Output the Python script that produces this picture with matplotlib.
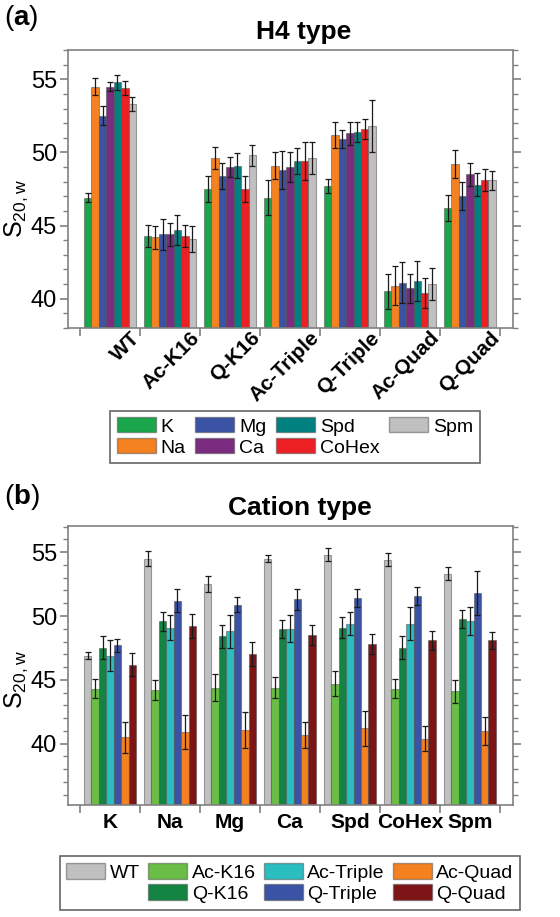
import matplotlib
matplotlib.use('Agg')
import matplotlib.pyplot as plt
import numpy as np
from matplotlib import font_manager
from matplotlib.patches import Patch
from matplotlib.transforms import ScaledTranslation

# H4 variants (panel a groups) and cations (panel b groups)
h4_types = ['WT', 'Ac-K16', 'Q-K16', 'Ac-Triple', 'Q-Triple', 'Ac-Quad', 'Q-Quad']
cations = ['K', 'Na', 'Mg', 'Ca', 'Spd', 'CoHex', 'Spm']

# s20,w per cation (K, Na, Mg, Ca, Spd, CoHex, Spm) for each H4 type
wt = [46.9, 54.5, 52.5, 54.5, 54.8, 54.4, 53.3]
wt_err = [0.3, 0.6, 0.65, 0.3, 0.5, 0.5, 0.5]
ac_k16 = [44.3, 44.2, 44.4, 44.4, 44.7, 44.3, 44.1]
ac_k16_err = [0.75, 0.8, 1.05, 0.8, 1.0, 0.75, 0.9]
q_k16 = [47.5, 49.6, 48.4, 49.0, 49.1, 47.5, 49.8]
q_k16_err = [0.9, 0.75, 0.9, 0.7, 0.85, 0.9, 0.7]
ac_triple = [46.9, 49.1, 48.8, 49.0, 49.4, 49.4, 49.6]
ac_triple_err = [1.2, 0.95, 1.3, 1.05, 0.9, 1.3, 1.1]
q_triple = [47.7, 51.2, 50.9, 51.3, 51.4, 51.6, 51.8]
q_triple_err = [0.5, 0.9, 0.6, 0.8, 0.7, 0.7, 1.75]
ac_quad = [40.5, 40.9, 41.1, 40.7, 41.2, 40.4, 41.0]
ac_quad_err = [1.2, 1.35, 1.4, 1.0, 1.35, 1.0, 1.1]
q_quad = [46.2, 49.2, 47.0, 48.5, 47.8, 48.1, 48.1]
q_quad_err = [0.9, 0.95, 0.95, 0.8, 0.8, 0.75, 0.65]

cation_colors = ['#1aa64a', '#f58220', '#3b53a4', '#7b2b80', '#008080', '#ed2024', '#c0c0c0']
h4_colors = ['#c0c0c0', '#6abd45', '#138442', '#2bbec0', '#3b53a4', '#f58220', '#7d1416']

values = np.array([wt, ac_k16, q_k16, ac_triple, q_triple, ac_quad, q_quad])
errors = np.array([wt_err, ac_k16_err, q_k16_err, ac_triple_err, q_triple_err,
                   ac_quad_err, q_quad_err])

names = {f.name for f in font_manager.fontManager.ttflist}
narrow = 'Liberation Sans Narrow' if 'Liberation Sans Narrow' in names else 'Liberation Sans'
plt.rcParams['font.family'] = [narrow, 'DejaVu Sans']
plt.rcParams['mathtext.fontset'] = 'custom'
plt.rcParams['mathtext.rm'] = 'Liberation Sans'
plt.rcParams['mathtext.bf'] = 'Liberation Sans:bold'

W, H = 560, 917
fig = plt.figure(figsize=(W / 100, H / 100), dpi=100)

gray = '#808080'
edge = (0.3, 0.3, 0.3, 0.5)
bar_w = 0.124


def draw_panel(ax, data, err, colors):
    n = data.shape[1]
    x = np.arange(data.shape[0])
    for i in range(n):
        ax.bar(x + (i - (n - 1) / 2) * bar_w, data[:, i], bar_w, yerr=err[:, i],
               color=colors[i], edgecolor=edge, linewidth=0.8,
               error_kw=dict(ecolor='#1a1a1a', elinewidth=0.9, capsize=2.5, capthick=0.9))
    ax.set_xlim(-0.7, 6.72)
    ax.set_xticks(np.arange(-0.5, 7, 1))
    ax.set_xticklabels([])
    ax.set_xticks(x, minor=True)
    ax.set_yticks([40, 45, 50, 55])
    ax.set_yticks(np.arange(36, 58, 1), minor=True)
    for s in ax.spines.values():
        s.set_color(gray)
        s.set_linewidth(1.2)
    ax.tick_params(axis='y', which='both', direction='out', left=True, right=True,
                   color=gray, labelsize=17, pad=2)
    ax.tick_params(axis='y', which='major', length=6, width=1.2)
    ax.tick_params(axis='y', which='minor', length=3.5, width=1.0)
    ax.tick_params(axis='x', which='major', direction='out', length=6, width=1.2, color=gray)
    ax.tick_params(axis='x', which='minor', length=0)
    ax.set_ylabel(r'$\mathrm{S_{20,w}}$', fontsize=18)


# panel (a): grouped by H4 type, bars per cation
ax1 = fig.add_axes([68 / W, 1 - 328 / H, 445 / W, 278 / H])
draw_panel(ax1, values, errors, cation_colors)
ax1.set_ylim(38, 57)
ax1.set_xticklabels(h4_types, minor=True, rotation=45, ha='right', va='top',
                    rotation_mode='anchor', fontweight='bold', fontsize=15)
ax1.tick_params(axis='x', which='minor', pad=0)
for lab in ax1.get_xticklabels(minor=True):
    lab.set_transform(lab.get_transform() + ScaledTranslation(0.2, 0, fig.dpi_scale_trans))
ax1.yaxis.set_label_coords(-0.085, 0.43)
ax1.set_title('H4 type', fontsize=19, fontweight='bold', family='Liberation Sans', pad=8,
              x=0.53)

# panel (b): grouped by cation, bars per H4 type
ax2 = fig.add_axes([68 / W, 1 - 805 / H, 445 / W, 279 / H])
draw_panel(ax2, values.T, errors.T, h4_colors)
ax2.set_ylim(35.2, 57.05)
ax2.set_xticklabels(cations, minor=True, fontweight='bold', fontsize=15)
ax2.tick_params(axis='x', which='minor', pad=6)
ax2.yaxis.set_label_coords(-0.085, 0.45)
ax2.set_title('Cation type', fontsize=19, fontweight='bold', family='Liberation Sans', pad=8,
              x=0.52)

# legends
leg_kw = dict(ncol=4, fancybox=False, framealpha=1, edgecolor='#666666',
              handletextpad=0.25, labelspacing=0.15, borderpad=0.35)
h1 = [Patch(facecolor=c, edgecolor=edge, label=l) for c, l in zip(cation_colors, cations)]
leg1 = fig.legend(handles=h1, loc='center', bbox_to_anchor=(295 / W, 1 - 437 / H),
                  fontsize=14, handlelength=2.0, handleheight=0.8, columnspacing=0.5,
                  **leg_kw)
leg1.get_frame().set_linewidth(1.2)

h2 = [Patch(facecolor=c, edgecolor=edge, label=l) for c, l in zip(h4_colors, h4_types)]
h2.insert(1, Patch(facecolor='none', edgecolor='none', label=''))
leg2 = fig.legend(handles=h2, loc='center', bbox_to_anchor=(290 / W, 1 - 883 / H),
                  fontsize=14, handlelength=2.0, handleheight=0.85, columnspacing=0.4,
                  **leg_kw)
leg2.get_frame().set_linewidth(1.2)

# panel letters
fig.text(4 / W, 1 - 18 / H, r'($\mathbf{a}$)', fontsize=20, family='Liberation Sans',
         va='center', ha='left')
fig.text(4 / W, 1 - 497 / H, r'($\mathbf{b}$)', fontsize=20, family='Liberation Sans',
         va='center', ha='left')

fig.savefig('out.png', dpi=100)
